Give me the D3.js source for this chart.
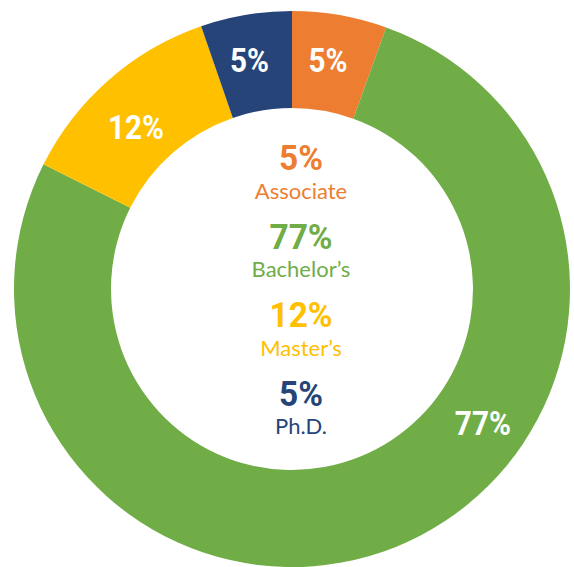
<!DOCTYPE html>
<html><head><meta charset="utf-8">
<script src="https://cdn.jsdelivr.net/npm/d3@7"></script>
<style>html,body{margin:0;padding:0;background:#fff;}svg{display:block;}</style>
</head><body>
<svg id="chart" width="574" height="567"></svg>
<script>
const categories = ["Associate", "Bachelor\u2019s", "Master\u2019s", "Ph.D."];
const values = [5.5, 76.9, 12.3, 5.3];
const valueLabels = ["5%", "77%", "12%", "5%"];
const colors = ["#ED7D31", "#70AD47", "#FFC000", "#264478"];

const svg = d3.select("#chart");
const cx = 292, cy = 289, R = 278, r = 181;
const g = svg.append("g").attr("transform", `translate(${cx},${cy})`);

const pie = d3.pie().sort(null).value(d => d)(values);
const arc = d3.arc().innerRadius(r).outerRadius(R);

g.selectAll("path.slice").data(pie).enter().append("path")
  .attr("class", "slice")
  .attr("d", arc)
  .attr("fill", (d, i) => colors[i]);

// ring labels
const labelFrac = [0.45, 0.38, 0.44, 0.45];
const labelR = [232, 233, 225, 233];
g.selectAll("text.ring").data(pie).enter().append("text")
  .attr("class", "ring")
  .attr("transform", (d, i) => {
    const a = d.startAngle + labelFrac[i] * (d.endAngle - d.startAngle);
    const x = Math.sin(a) * labelR[i], y = -Math.cos(a) * labelR[i];
    return `translate(${x},${y}) scale(0.9,1)`;
  })
  .attr("text-anchor", "middle")
  .attr("dy", "0.36em")
  .attr("fill", "#fff")
  .attr("font-family", "Roboto, 'DejaVu Sans', sans-serif")
  .attr("font-weight", 700)
  .attr("font-size", 33)
  .text((d, i) => valueLabels[i]);

// center legend
const step = 78.5;
const legTop = 170 - cy;
const lg = g.selectAll("g.leg").data(categories).enter().append("g")
  .attr("class", "leg")
  .attr("transform", (d, i) => `translate(9,${legTop + i * step})`);
lg.append("text")
  .attr("transform", "scale(0.93,1)")
  .attr("text-anchor", "middle")
  .attr("fill", (d, i) => colors[i])
  .attr("font-family", "Roboto, 'DejaVu Sans', sans-serif")
  .attr("font-weight", 700)
  .attr("font-size", 36)
  .text((d, i) => valueLabels[i]);
lg.append("text")
  .attr("y", 28.5)
  .attr("text-anchor", "middle")
  .attr("fill", (d, i) => colors[i])
  .attr("font-family", "Lato, 'Open Sans', sans-serif")
  .attr("font-size", 22)
  .text(d => d);
</script>
</body></html>
